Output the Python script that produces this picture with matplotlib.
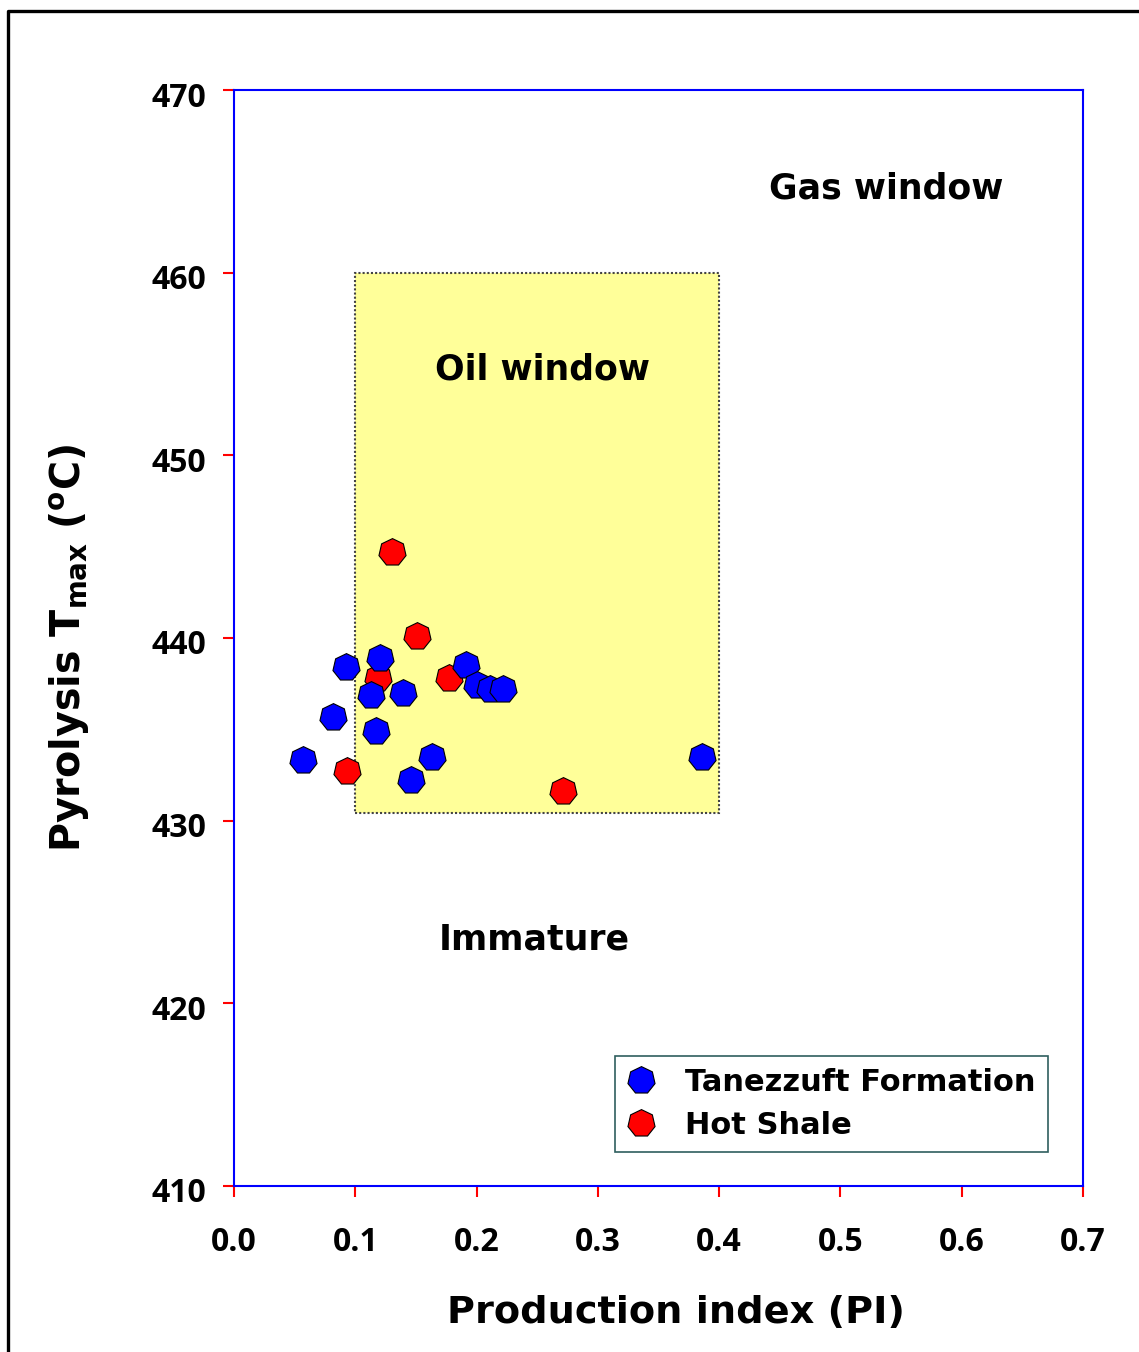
import matplotlib
matplotlib.use("Agg")
import matplotlib.pyplot as plt
import matplotlib.transforms as mtransforms
from matplotlib.patches import Rectangle
from matplotlib.lines import Line2D

# Data
tan_pi = [0.057, 0.082, 0.092, 0.113, 0.120, 0.117, 0.139, 0.146, 0.163, 0.191, 0.200, 0.211, 0.222, 0.386]
tan_tmax = [433.3, 435.7, 438.4, 436.9, 438.9, 434.9, 437.0, 432.2, 433.5, 438.5, 437.4, 437.2, 437.2, 433.5]
hot_pi = [0.130, 0.151, 0.119, 0.177, 0.093, 0.271]
hot_tmax = [444.7, 440.1, 437.8, 437.8, 432.7, 431.6]

oil_pi = [0.1, 0.4]
oil_tmax = [430.4, 460.0]

xticks = [0.0, 0.1, 0.2, 0.3, 0.4, 0.5, 0.6, 0.7]
xticklabels = ["0.0", "0.1", "0.2", "0.3", "0.4", "0.5", "0.6", "0.7"]
yticks = [410, 420, 430, 440, 450, 460, 470]
yticklabels = ["410", "420", "430", "440", "450", "460", "470"]

W, H = 1139, 1352
fig = plt.figure(figsize=(W / 100, H / 100), dpi=100)
ax = fig.add_axes([234 / W, 1 - 1186 / H, (1083 - 234) / W, (1186 - 90) / H])

ax.set_xlim(0, 0.7)
ax.set_ylim(410, 470)

ax.add_patch(Rectangle((oil_pi[0], oil_tmax[0]), oil_pi[1] - oil_pi[0], oil_tmax[1] - oil_tmax[0],
                       facecolor="#FFFF99", edgecolor="#444444", linestyle=(0, (1, 1)), linewidth=1.5, zorder=1))

ms = 20
ax.plot(hot_pi, hot_tmax, linestyle="none", marker=(7, 0, 0), markersize=ms,
        markerfacecolor="#FF0000", markeredgecolor="black", markeredgewidth=0.8, zorder=3)
for x, y in zip(tan_pi, tan_tmax):
    ax.plot([x], [y], linestyle="none", marker=(7, 0, 0), markersize=ms,
            markerfacecolor="#0000FF", markeredgecolor="black", markeredgewidth=0.8, zorder=4)

for s in ax.spines.values():
    s.set_color("#0000FF")
    s.set_linewidth(1.5)

tick_font = dict(family="Open Sans", weight="bold", size=23)
ax.set_xticks(xticks)
ax.set_xticklabels(xticklabels, fontdict=tick_font)
ax.set_yticks(yticks)
ax.set_yticklabels(yticklabels, fontdict=tick_font)
ax.tick_params(axis="both", direction="out", length=8, width=1.5, color="#FF0000")
ax.tick_params(axis="x", pad=21)
ax.tick_params(axis="y", pad=12)
shift = mtransforms.ScaledTranslation(0, -4 / 100, fig.dpi_scale_trans)
for lab in ax.get_yticklabels():
    lab.set_transform(lab.get_transform() + shift)

lab_font = dict(family="DejaVu Sans", weight="bold", size=27.5)
fig.text(676 / W, 1 - 1313 / H, "Production index (PI)", ha="center", va="center", **lab_font)
plt.rcParams["mathtext.default"] = "bf"
fig.text(70 / W, 1 - 648 / H, r"Pyrolysis T$_{\mathbf{max}}$ ($^{\mathbf{o}}$C)", ha="center", va="center",
         rotation=90, family="DejaVu Sans", weight="bold", size=28.5)

ann = dict(family="DejaVu Sans", weight="bold", size=25, ha="center", va="center")
ax.text(0.538, 464.6, "Gas window", **ann)
ax.text(0.2547, 454.7, "Oil window", **ann)
ax.text(0.2473, 423.5, "Immature", **ann)

h1 = Line2D([], [], linestyle="none", marker=(7, 0, 0), markersize=ms, markerfacecolor="#0000FF",
            markeredgecolor="black", markeredgewidth=0.8)
h2 = Line2D([], [], linestyle="none", marker=(7, 0, 0), markersize=ms, markerfacecolor="#FF0000",
            markeredgecolor="black", markeredgewidth=0.8)
leg = ax.legend([h1, h2], ["Tanezzuft Formation", "Hot Shale"], loc="lower right",
                bbox_to_anchor=(1048 / W, 1 - 1152 / H), bbox_transform=fig.transFigure,
                prop=dict(family="DejaVu Sans", weight="bold", size=22), frameon=True, fancybox=False,
                edgecolor="#2F5F5F", framealpha=1, borderpad=0.4, labelspacing=0.45, handletextpad=1.0,
                handlelength=0.9, borderaxespad=0)
leg.get_frame().set_linewidth(1.2)

# figure frame
fig.add_artist(Line2D([8 / W, 8 / W, 1.0], [0.0, 1 - 11 / H, 1 - 11 / H], color="black", linewidth=2.4,
                      transform=fig.transFigure))

fig.savefig("out.png", dpi=100)
